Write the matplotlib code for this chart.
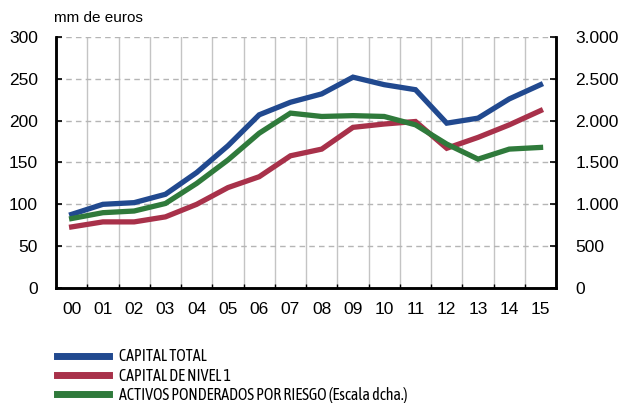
import matplotlib.pyplot as plt
import numpy as np

years = ["00", "01", "02", "03", "04", "05", "06", "07",
         "08", "09", "10", "11", "12", "13", "14", "15"]
capital_total = [88, 100, 102, 112, 138, 170, 207, 222,
                 232, 252, 243, 237, 197, 203, 226, 243]
capital_nivel1 = [73, 79, 79, 85, 100, 120, 133, 158,
                  166, 192, 196, 199, 167, 180, 195, 212]
activos_pond = [830, 900, 920, 1010, 1250, 1530, 1850, 2090,
                2050, 2060, 2050, 1950, 1720, 1540, 1660, 1680]
left_ticks = [0, 50, 100, 150, 200, 250, 300]
right_ticks = [0, 500, 1000, 1500, 2000, 2500, 3000]
right_labels = ["0", "500", "1.000", "1.500", "2.000", "2.500", "3.000"]

BLUE = "#21498f"
RED = "#a8314a"
GREEN = "#2f7a3b"

plt.rcParams["font.family"] = ["Liberation Sans", "DejaVu Sans"]

fig = plt.figure(figsize=(6.19, 4.03), dpi=100)
ax = fig.add_axes([0.0905, 0.2854, 0.808, 0.6228])
ax2 = ax.twinx()

x = np.arange(len(years))
l1, = ax.plot(x, capital_total, color=BLUE, lw=3.8, solid_joinstyle="miter", zorder=3)
l2, = ax.plot(x, capital_nivel1, color=RED, lw=3.8, solid_joinstyle="miter", zorder=3)
l3, = ax2.plot(x, activos_pond, color=GREEN, lw=3.8, solid_joinstyle="miter", zorder=3)

ax.set_xlim(-0.5, len(years) - 0.5)
ax.set_ylim(0, 300)
ax2.set_ylim(0, 3000)
ax.set_yticks(left_ticks)
ax.set_yticklabels([str(v) for v in left_ticks], fontsize=12.5)
ax2.set_yticks(right_ticks)
ax2.set_yticklabels(right_labels, fontsize=12.5)

ax.set_xticks(x)
ax.set_xticklabels(years, fontsize=12.5)
ax.set_xticks(x[:-1] + 0.5, minor=True)
ax.tick_params(axis="x", which="major", length=0, pad=10)
ax.tick_params(axis="x", which="minor", length=3, direction="in", width=1)
ax.tick_params(axis="y", length=4, direction="in", width=1.2, pad=13)
ax2.tick_params(axis="y", length=4, direction="in", width=1.2, pad=14)

ax.grid(True, axis="y", color="#b5b5b5", ls=(0, (4, 3)), lw=1)
ax.grid(True, axis="x", which="minor", color="#c4c4c4", ls="-", lw=1)
ax.set_axisbelow(True)

for a in (ax, ax2):
    a.spines["top"].set_visible(False)
    for s in ("left", "right", "bottom"):
        a.spines[s].set_linewidth(1.8)
        a.spines[s].set_color("black")

fig.text(0.087, 0.945, "mm de euros", fontsize=11, ha="left", va="baseline")

leg = fig.legend([l1, l2, l3],
                 ["CAPITAL TOTAL", "CAPITAL DE NIVEL 1",
                  "ACTIVOS PONDERADOS POR RIESGO (Escala dcha.)"],
                 loc="upper left", bbox_to_anchor=(0.081, 0.152),
                 frameon=False, handlelength=3.3, handletextpad=0.6,
                 labelspacing=0.15, borderaxespad=0,
                 prop={"family": ["Asap Condensed", "Liberation Sans"], "size": 11.5})
for h in leg.legend_handles:
    h.set_linewidth(5)

fig.savefig("out.png", dpi=100)
